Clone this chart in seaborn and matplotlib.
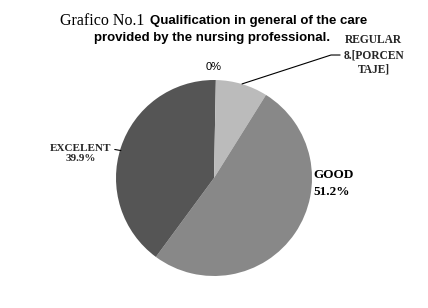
import matplotlib
matplotlib.use("Agg")
import matplotlib.pyplot as plt
import seaborn as sns

sns.set_theme(style="white")
plt.rcParams['font.family'] = ['Liberation Sans', 'DejaVu Sans']

categories = ["", "REGULAR", "GOOD", "EXCELENT"]
values = [0.3, 8.6, 51.2, 39.9]
colors = ["#555555", "#bbbbbb", "#888888", "#555555"]

W, H = 428, 308
fig = plt.figure(figsize=(W / 100, H / 100), dpi=100)
fig.patch.set_facecolor("white")

cx, cy, r = 214, 178, 98
ax = fig.add_axes([(cx - r) / W, (H - cy - r) / H, 2 * r / W, 2 * r / H])
ax.pie(values, colors=colors, startangle=90, counterclock=False,
       wedgeprops=dict(linewidth=0))
ax.set_xlim(-1, 1)
ax.set_ylim(-1, 1)
ax.set_aspect("equal")
ax.axis("off")

def fx(px):
    return px / W

def fy(py):
    return 1 - py / H

# Title
fig.text(fx(60), fy(21), "Grafico No.1", family="Liberation Serif", fontsize=11.5,
         va="center", ha="left", color="black")
fig.text(fx(150), fy(21), "Qualification in general of the care", fontsize=9.5,
         fontweight="bold", va="center", ha="left", color="black")
fig.text(fx(212), fy(38), "provided by the nursing professional.", fontsize=9.5,
         fontweight="bold", va="center", ha="center", color="black")

serif = "Liberation Serif"
# Labels (data coords of pie axes)
ax.text(0.0, 1.13, "0%", ha="center", va="center", fontsize=8, color="black")
ax.annotate("REGULAR\n8.[PORCEN\nTAJE]", xy=(0.286, 0.96), xytext=(1.63, 1.255),
            ha="center", va="center", fontsize=8.3, fontweight="bold",
            family=serif, linespacing=1.3, annotation_clip=False,
            arrowprops=dict(arrowstyle="-", color="black", lw=0.8,
                            shrinkA=0, shrinkB=0,
                            connectionstyle="angle,angleA=0,angleB=18,rad=0",
                            relpos=(0.0, 0.5)))
ax.annotate("EXCELENT\n39.9%", xy=(-0.95, 0.28), xytext=(-1.36, 0.25),
            ha="center", va="center", fontsize=8, fontweight="bold",
            family=serif, linespacing=1.05, annotation_clip=False,
            arrowprops=dict(arrowstyle="-", color="black", lw=0.8,
                            shrinkA=0, shrinkB=0, relpos=(1.0, 0.75)))
ax.text(1.01, -0.06, "GOOD\n51.2%", ha="left", va="center", fontsize=9.5,
        fontweight="bold", family=serif, linespacing=1.55, color="black")

fig.savefig("out.png", dpi=100, facecolor="white")
